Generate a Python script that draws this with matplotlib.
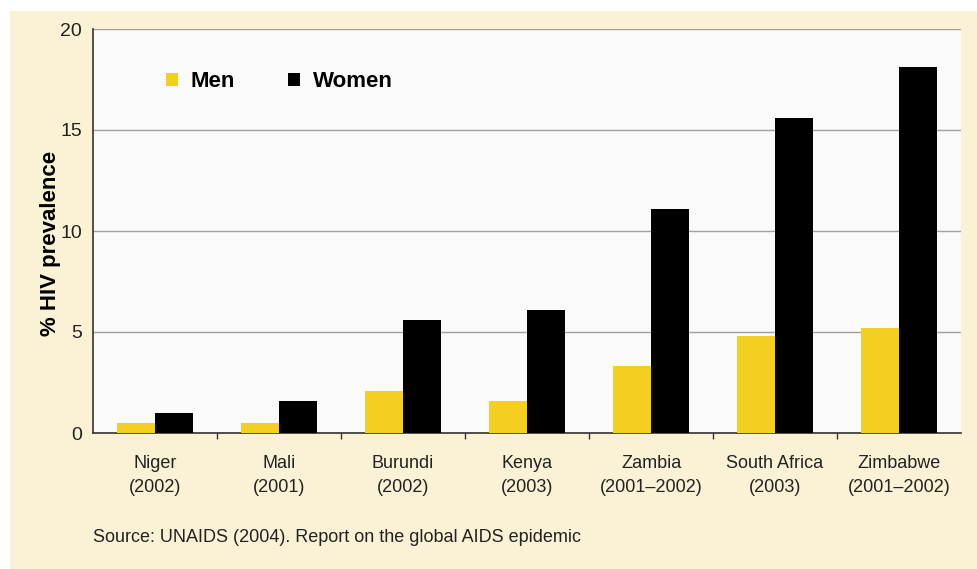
import matplotlib
matplotlib.use("Agg")
import matplotlib.pyplot as plt
from matplotlib.patches import Rectangle
import numpy as np

countries = ["Niger\n(2002)", "Mali\n(2001)", "Burundi\n(2002)", "Kenya\n(2003)",
             "Zambia\n(2001\u20132002)", "South Africa\n(2003)", "Zimbabwe\n(2001\u20132002)"]
men = [0.5, 0.5, 2.1, 1.6, 3.3, 4.8, 5.2]
women = [1.0, 1.6, 5.6, 6.1, 11.1, 15.6, 18.1]
yticks = [0, 5, 10, 15, 20]

beige = "#fbf2d6"
yellow = "#f5cf1f"
font = ["Liberation Sans", "DejaVu Sans"]

fig = plt.figure(figsize=(9.77, 5.69), dpi=100)
fig.patch.set_facecolor("white")
fig.patches.append(Rectangle((10 / 977, 0), 1, 558 / 569, transform=fig.transFigure,
                             facecolor=beige, edgecolor="none", zorder=-1))

ax = fig.add_axes([93 / 977, 136 / 569, 868 / 977, 404 / 569])
ax.set_facecolor("#fafafa")

x = np.arange(len(countries))
w = 0.31
ax.bar(x - w / 2, men, w, color=yellow, label="Men", zorder=3)
ax.bar(x + w / 2, women, w, color="black", label="Women", zorder=3)

ax.set_xlim(-0.5, len(countries) - 0.5)
ax.set_ylim(0, 20)
ax.set_yticks(yticks)
ax.set_yticklabels([str(v) for v in yticks], family=font, fontsize=14, color="#222222")
ax.tick_params(axis="y", length=0, pad=8)
ax.grid(axis="y", color="#a0a0a0", linewidth=1, zorder=1)

ax.set_xticks(x)
ax.set_xticklabels(countries, family=font, fontsize=13, color="#222222", linespacing=1.5)
ax.tick_params(axis="x", which="major", length=0, pad=16)
# short separators between the country groups
ax.set_xticks(np.arange(1, len(countries)) - 0.5, minor=True)
ax.tick_params(axis="x", which="minor", length=4, color="#333333", width=1, direction="out")

for s in ["top", "right"]:
    ax.spines[s].set_visible(False)
ax.spines["left"].set_color("#333333")
ax.spines["bottom"].set_color("#333333")
ax.spines["left"].set_linewidth(1.2)
ax.spines["bottom"].set_linewidth(1.2)

ax.set_ylabel("% HIV prevalence", family=font, fontsize=16, fontweight="bold")
ax.yaxis.set_label_coords(-32 / 868, 0.47)

ax.legend(loc="upper left", bbox_to_anchor=(0.061, 0.945), ncol=2, frameon=False,
          handlelength=0.55, handleheight=0.55, handletextpad=0.55, columnspacing=2.4,
          prop={"family": font, "weight": "bold", "size": 16})

fig.text(93 / 977, 1 - 538 / 569, "Source: UNAIDS (2004). Report on the global AIDS epidemic",
         family=font, fontsize=13, color="#222222", va="center")

fig.savefig("out.png", dpi=100)
